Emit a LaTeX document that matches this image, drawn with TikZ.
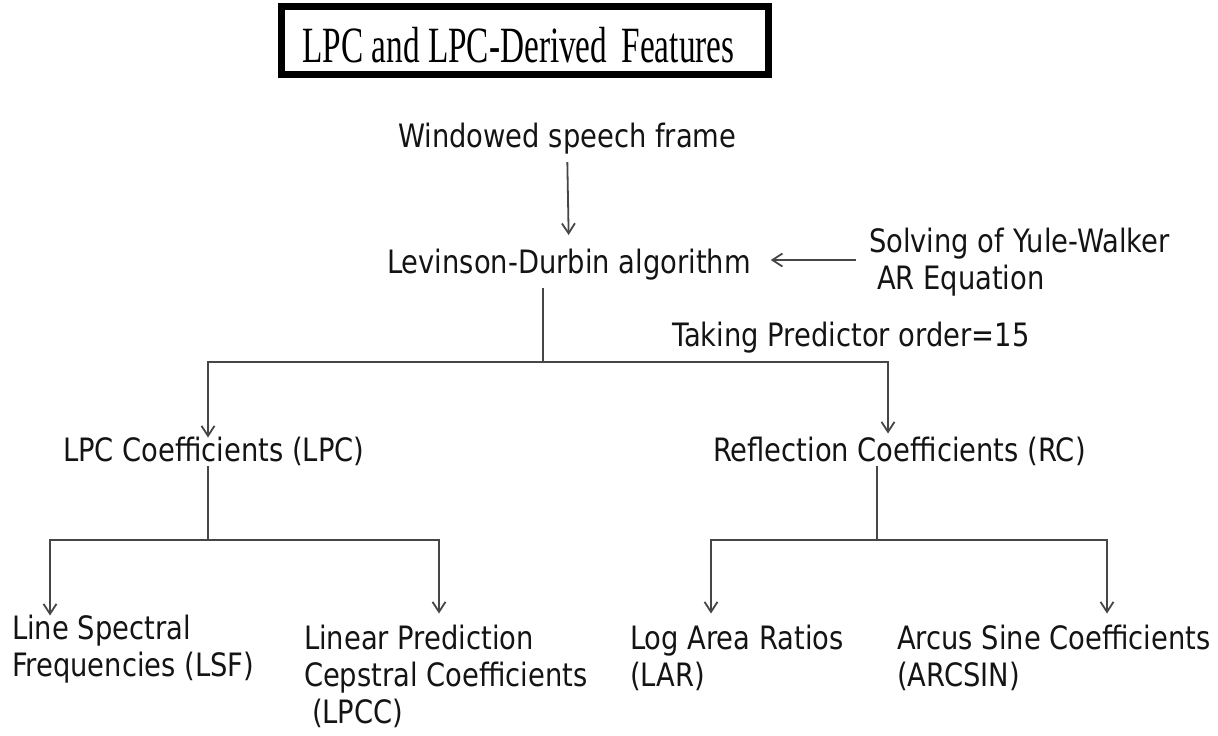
\documentclass[tikz,border=0pt]{standalone}
\usepackage{fontspec}
\usetikzlibrary{arrows.meta}
\newfontfamily\dvfont[FakeStretch=0.85]{DejaVu Sans}
\newfontfamily\ttlfont[FakeStretch=0.655]{Liberation Serif}
\definecolor{ln}{RGB}{70,70,70}
\definecolor{txt}{RGB}{20,20,20}
\begin{document}
\begin{tikzpicture}[x=0.5pt,y=-0.5pt,
  lbl/.style={inner sep=0pt, outer sep=0pt, anchor=north west, align=left,
    font=\dvfont\fontsize{16.1pt}{18.5pt}\selectfont, text=txt},
  conn/.style={draw=ln, line width=0.9pt},
  arr/.style={conn, -{Straight Barb[length=5pt,width=6.5pt,line width=0.9pt]}}]
\useasboundingbox (0,0) rectangle (1218,735);
% title
\draw[line width=3.5pt] (281.5,6.5) rectangle (768.5,74.5);
\node[inner sep=0pt, anchor=base west, text=black,
  font=\ttlfont\fontsize{25.4pt}{30pt}\selectfont] (title) at (302,62)
  {LPC and LPC-Derived\hspace{3pt} Features};
% nodes
\node[lbl] (win) at (398,123.5) {Windowed speech frame};
\node[lbl] (lev) at (387,249.5) {Levinson-Durbin algorithm};
\node[lbl] (solve) at (869,228.5) {Solving of Yule-Walker\\\hspace*{4pt}AR Equation};
\node[lbl] (taking) at (672,322.5) {Taking Predictor order=15};
\node[lbl] (lpc) at (63,437.5) {LPC Coefficients (LPC)};
\node[lbl] (rc) at (713,437.5) {Reflection Coefficients (RC)};
\node[lbl] (lsf) at (12,615.5) {Line Spectral\\Frequencies (LSF)};
\node[lbl] (lpcc) at (304,625.5) {Linear Prediction\\Cepstral Coefficients\\\hspace*{4pt}(LPCC)};
\node[lbl] (lar) at (630,625.5) {Log Area Ratios\\(LAR)};
\node[lbl] (arcsin) at (897,625.5) {Arcus Sine Coefficients\\(ARCSIN)};
% helper coordinates
\coordinate (r1) at (543,362);
\coordinate (r2) at (208,540);
\coordinate (r3) at (877,540);
\coordinate (yl) at (0,260);
% connectors
\draw[arr, shorten <=3.7pt, shorten >=7.25pt] (win.south) -- (lev.north);
\draw[arr, shorten <=6.5pt, shorten >=10pt] (solve.west |- yl) -- (lev.east |- yl);
\draw[conn, shorten <=3.7pt] (lev.south -| r1) -- (r1);
\draw[arr] (r1) -| ([xshift=72.5pt]lpc.north west);
\draw[arr, shorten >=2pt] (r1) -| ([xshift=87.5pt]rc.north west);
\draw[conn] (lpc.south -| r2) -- (r2);
\draw[arr] (r2) -| ([xshift=19pt]lsf.north west);
\draw[arr, shorten >=6pt] (r2) -| ([xshift=67.5pt]lpcc.north west);
\draw[conn] (rc.south -| r3) -- (r3);
\draw[arr, shorten >=6pt] (r3) -| ([xshift=40.5pt]lar.north west);
\draw[arr, shorten >=6pt] (r3) -| ([xshift=105pt]arcsin.north west);
\end{tikzpicture}
\end{document}
